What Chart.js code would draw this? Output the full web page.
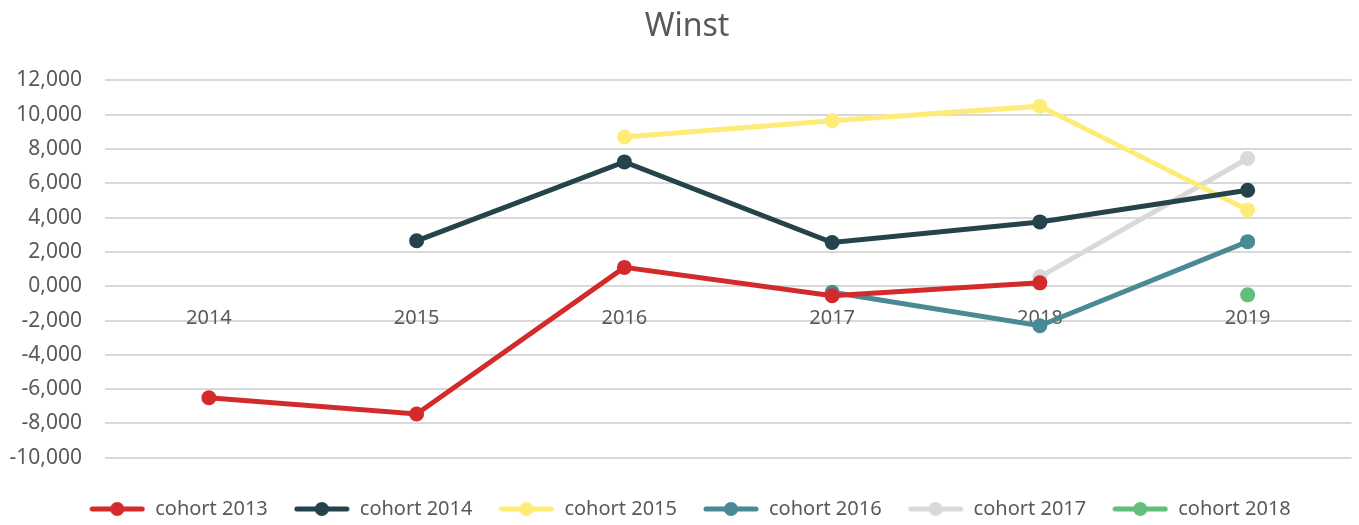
<!DOCTYPE html>
<html>
<head>
<meta charset="utf-8">
<title>Winst</title>
<script src="https://cdn.jsdelivr.net/npm/chart.js@4.4.1/dist/chart.umd.min.js"></script>
<style>
    html, body { margin: 0; padding: 0; background: #fff; }
    #wrap { width: 1359px; height: 525px; }
</style>
</head>
<body>
<div id="wrap"><canvas id="winstChart"></canvas></div>
<script>
    // Data
    const years = ['2014', '2015', '2016', '2017', '2018', '2019'];
    const cohort2013 = [-6500, -7450, 1100, -550, 200, null];
    const cohort2014 = [null, 2650, 7250, 2550, 3750, 5600];
    const cohort2015 = [null, null, 8700, 9650, 10500, 4450];
    const cohort2016 = [null, null, null, -350, -2300, 2600];
    const cohort2017 = [null, null, null, null, 550, 7450];
    const cohort2018 = [null, null, null, null, null, -500];

    const seriesNames = ['cohort 2013', 'cohort 2014', 'cohort 2015', 'cohort 2016', 'cohort 2017', 'cohort 2018'];
    const seriesColors = ['#d32b2b', '#24434a', '#ffeb78', '#4a8a94', '#d9d9d9', '#63be7b'];
    const seriesData = [cohort2013, cohort2014, cohort2015, cohort2016, cohort2017, cohort2018];

    const textColor = '#595959';
    const fontFamily = '"Noto Sans", sans-serif';

    // Legend marker: short line with a dot in the middle
    function legendMarker(color) {
        const c = document.createElement('canvas');
        c.width = 56;
        c.height = 16;
        const g = c.getContext('2d');
        g.strokeStyle = color;
        g.lineWidth = 5;
        g.lineCap = 'round';
        g.beginPath();
        g.moveTo(3, 8);
        g.lineTo(53, 8);
        g.stroke();
        g.fillStyle = color;
        g.beginPath();
        g.arc(28, 8, 7, 0, Math.PI * 2);
        g.fill();
        return c;
    }

    // Nudge title and legend a bit to the right, like the original
    const boxShift = {
        id: 'boxShift',
        afterLayout(chart) {
            if (chart.legend) chart.legend.left += 20;
            if (chart.titleBlock) chart.titleBlock.left += 14;
        }
    };

    const datasets = seriesData.map((data, i) => ({
        label: seriesNames[i],
        data: data,
        borderColor: seriesColors[i],
        backgroundColor: seriesColors[i],
        borderWidth: 5,
        pointRadius: 7.5,
        pointHoverRadius: 7.5,
        pointBorderWidth: 0,
        tension: 0,
        spanGaps: false
    }));

    function formatTick(value) {
        return (value < 0 ? '-' : '') + Math.abs(value / 1000) + ',000';
    }

    new Chart(document.getElementById('winstChart'), {
        type: 'line',
        data: { labels: years, datasets: datasets },
        plugins: [boxShift],
        options: {
            responsive: true,
            maintainAspectRatio: false,
            animation: false,
            layout: {
                padding: { left: 8, right: 7, top: 4, bottom: -4 }
            },
            plugins: {
                title: {
                    display: true,
                    text: 'Winst',
                    color: textColor,
                    font: { family: fontFamily, size: 32, weight: 'normal' },
                    padding: { top: 4, bottom: 34 }
                },
                legend: {
                    position: 'bottom',
                    title: {
                        display: true,
                        text: ' ',
                        font: { size: 1 },
                        padding: { top: 7, bottom: 7 }
                    },
                    labels: {
                        usePointStyle: true,
                        pointStyleWidth: 56,
                        color: textColor,
                        font: { family: fontFamily, size: 20 },
                        padding: 26,
                        generateLabels: function(chart) {
                            return chart.data.datasets.map((ds, i) => ({
                                text: ds.label,
                                fillStyle: ds.borderColor,
                                strokeStyle: ds.borderColor,
                                lineWidth: 0,
                                pointStyle: legendMarker(ds.borderColor),
                                hidden: !chart.isDatasetVisible(i),
                                datasetIndex: i,
                                fontColor: textColor
                            }));
                        }
                    }
                },
                tooltip: { enabled: false }
            },
            scales: {
                x: {
                    type: 'category',
                    offset: true,
                    position: { y: 0 },
                    border: { display: false },
                    grid: { display: false, drawTicks: false },
                    ticks: {
                        color: textColor,
                        font: { family: fontFamily, size: 20 },
                        padding: 20
                    }
                },
                y: {
                    min: -10000,
                    max: 12000,
                    border: { display: false },
                    grid: { color: '#d9d9d9', lineWidth: 2, drawTicks: false },
                    afterFit: function(scale) {
                        scale.width = 97;
                    },
                    ticks: {
                        stepSize: 2000,
                        color: textColor,
                        font: { family: fontFamily, size: 21 },
                        padding: 23,
                        callback: formatTick
                    }
                }
            }
        }
    });
</script>
</body>
</html>
